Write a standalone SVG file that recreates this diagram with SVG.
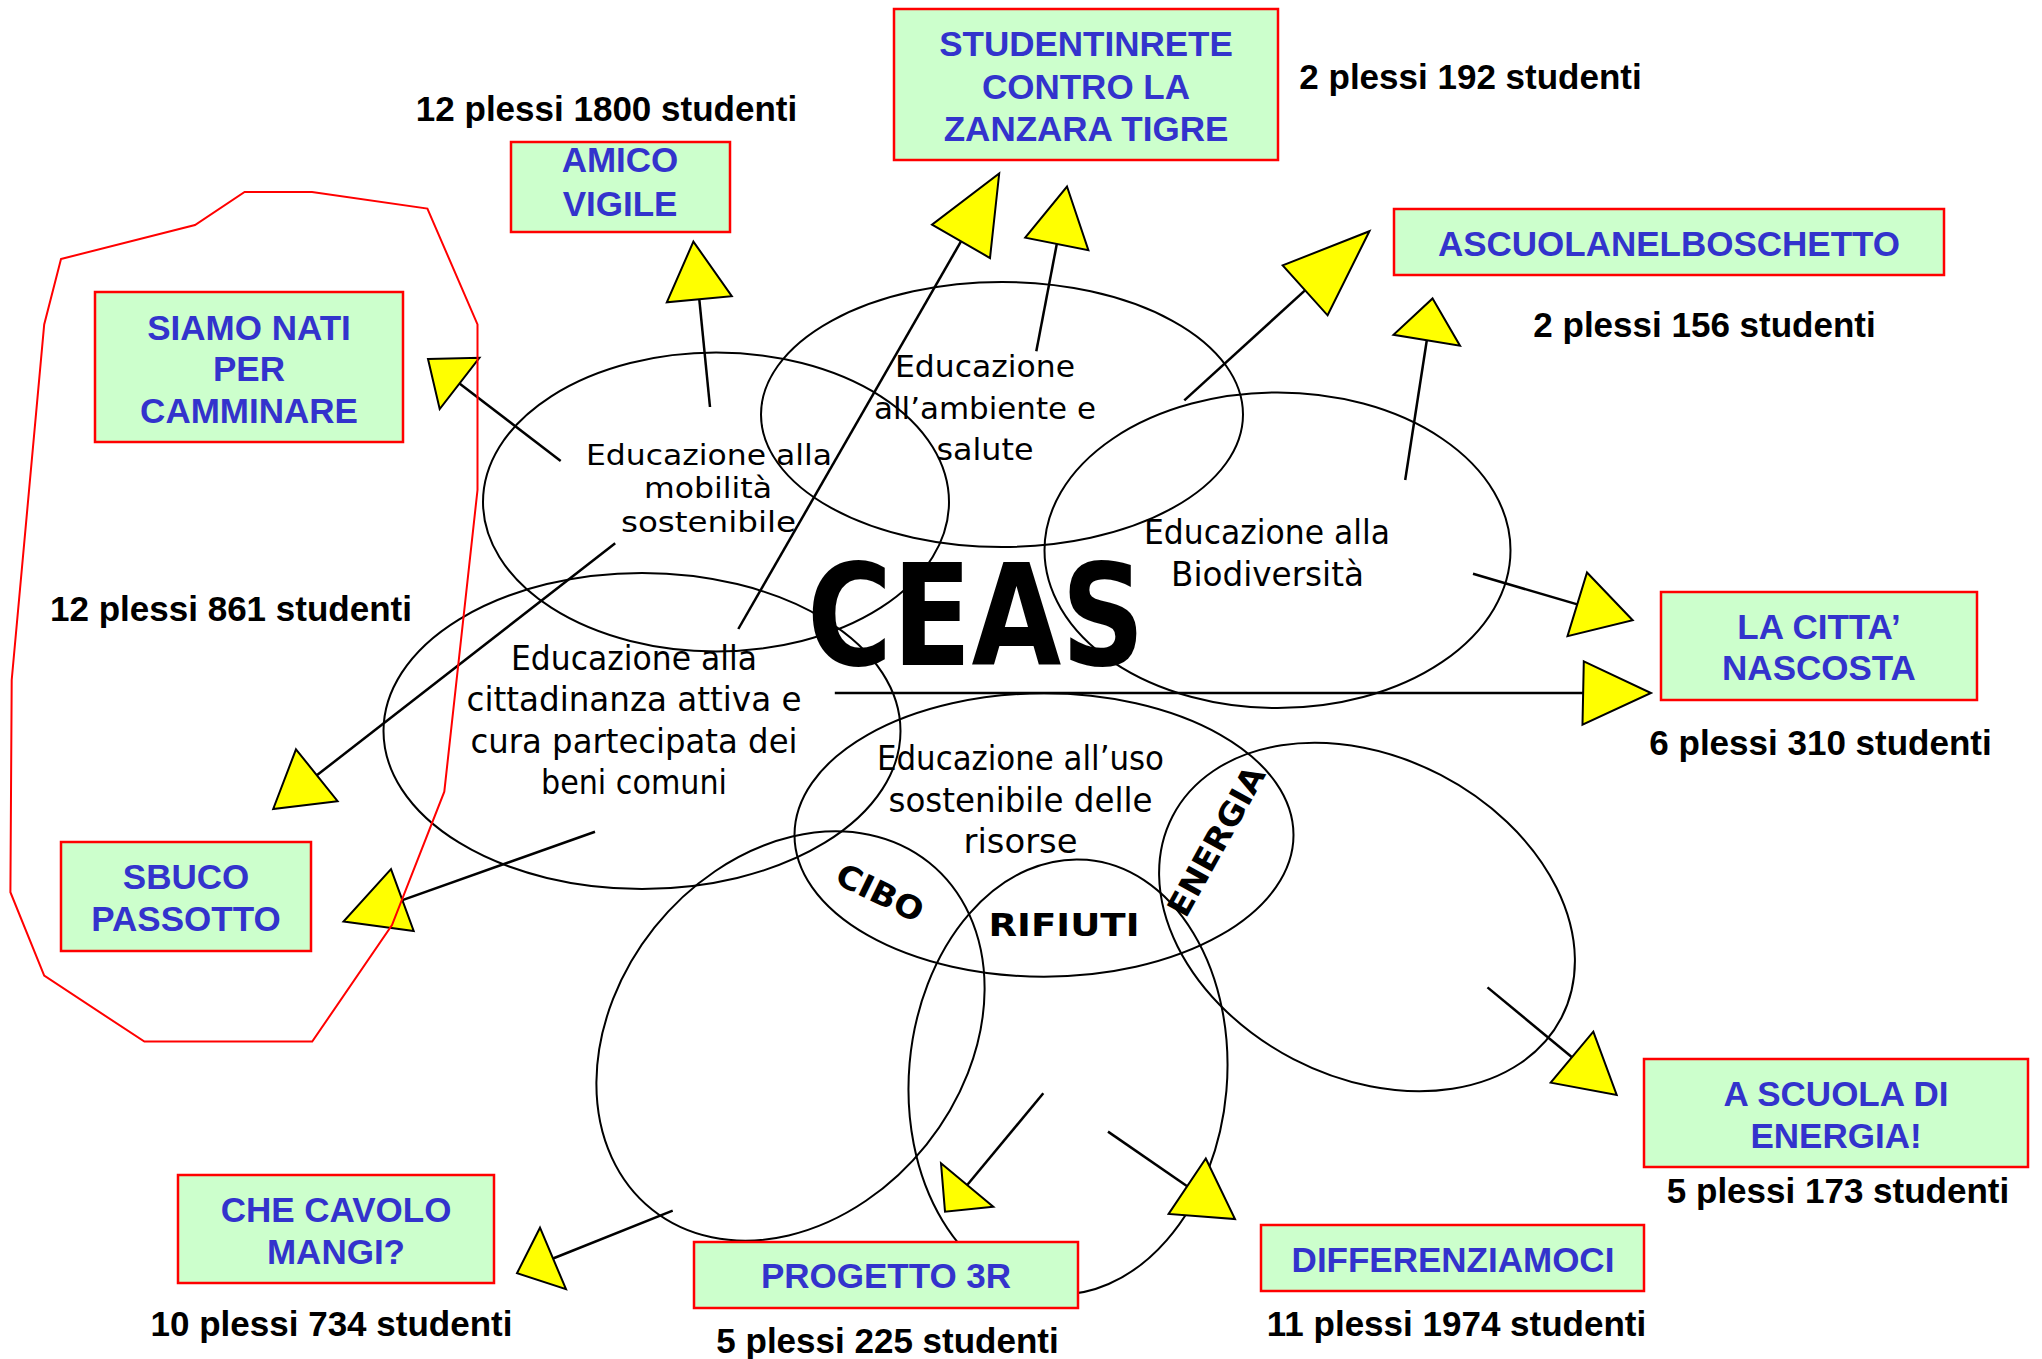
<svg xmlns="http://www.w3.org/2000/svg" width="2042" height="1359" viewBox="0 0 2042 1359">
<style>
.box rect{fill:#CCFFCC;stroke:#FF0000;stroke-width:2.5}
.bt{font-family:"Liberation Sans",Arial,sans-serif;font-weight:bold;font-size:35px;fill:#3333CC;text-anchor:middle}
.st{font-family:"Liberation Sans",Arial,sans-serif;font-weight:bold;font-size:35px;fill:#000;text-anchor:middle}
.ell{fill:none;stroke:#000;stroke-width:2}
.et{font-family:"DejaVu Sans","Open Sans",sans-serif;font-size:33px;fill:#000;text-anchor:middle}
.ea{font-family:"DejaVu Sans","Open Sans",sans-serif;font-size:31px;fill:#000;text-anchor:middle}
.em{font-family:"DejaVu Sans","Open Sans",sans-serif;font-size:28px;fill:#000;text-anchor:middle}
.lbl{font-family:"DejaVu Sans","Open Sans",sans-serif;font-weight:bold;font-size:32px;fill:#000;text-anchor:middle}
.conn line{stroke:#000;stroke-width:2.5}
.conn polygon{fill:#FFFF00;stroke:#000;stroke-width:2;stroke-linejoin:miter}
</style>
<rect width="2042" height="1359" fill="#FFFFFF"/>

<g id="ellipses">
<g id="n-mobilita">
<ellipse class="ell" cx="716" cy="502" rx="233" ry="149.5"/>
<text class="em" x="709" y="465" textLength="246" lengthAdjust="spacingAndGlyphs">Educazione alla</text>
<text class="em" x="708" y="498" textLength="128" lengthAdjust="spacingAndGlyphs">mobilità</text>
<text class="em" x="708.5" y="531.5" textLength="175" lengthAdjust="spacingAndGlyphs">sostenibile</text>
</g>
<g id="n-ambiente">
<ellipse class="ell" cx="1002" cy="414.5" rx="241" ry="132.5"/>
<text class="ea" x="985" y="376.5" textLength="180" lengthAdjust="spacingAndGlyphs">Educazione</text>
<text class="ea" x="985" y="419" textLength="222" lengthAdjust="spacingAndGlyphs">all’ambiente e</text>
<text class="ea" x="985" y="460" textLength="97" lengthAdjust="spacingAndGlyphs">salute</text>
</g>
<g id="n-biodiversita">
<ellipse class="ell" cx="1277.5" cy="550.3" rx="233" ry="157.8"/>
<text class="et" x="1267" y="544" textLength="246" lengthAdjust="spacingAndGlyphs">Educazione alla</text>
<text class="et" x="1267.5" y="585.5" textLength="193" lengthAdjust="spacingAndGlyphs">Biodiversità</text>
</g>
<g id="n-cittadinanza">
<ellipse class="ell" cx="642" cy="731" rx="258.5" ry="158"/>
<text class="et" x="634" y="670" textLength="246" lengthAdjust="spacingAndGlyphs">Educazione alla</text>
<text class="et" x="634" y="711" textLength="335" lengthAdjust="spacingAndGlyphs">cittadinanza attiva e</text>
<text class="et" x="634" y="752.5" textLength="327" lengthAdjust="spacingAndGlyphs">cura partecipata dei</text>
<text class="et" x="634" y="794" textLength="186" lengthAdjust="spacingAndGlyphs">beni comuni</text>
</g>
<g id="n-risorse">
<ellipse class="ell" cx="1044" cy="835" rx="249.5" ry="141.7"/>
<text class="et" x="1020.5" y="770" textLength="287" lengthAdjust="spacingAndGlyphs">Educazione all’uso</text>
<text class="et" x="1020.5" y="811.5" textLength="264" lengthAdjust="spacingAndGlyphs">sostenibile delle</text>
<text class="et" x="1020.5" y="853" textLength="114" lengthAdjust="spacingAndGlyphs">risorse</text>
</g>
<g id="n-cibo">
<ellipse class="ell" cx="0" cy="0" rx="174" ry="222" transform="translate(790.5 1036) rotate(38.6)"/>
<text class="lbl" x="0" y="11.5" textLength="93" lengthAdjust="spacingAndGlyphs" transform="translate(880 892.5) rotate(26)">CIBO</text>
</g>
<g id="n-rifiuti">
<ellipse class="ell" cx="0" cy="0" rx="159" ry="218" transform="translate(1068 1077) rotate(5)"/>
<text class="lbl" x="1064" y="936" textLength="151" lengthAdjust="spacingAndGlyphs">RIFIUTI</text>
</g>
<g id="n-energia">
<ellipse class="ell" cx="0" cy="0" rx="219" ry="160" transform="translate(1367 917) rotate(27.4)"/>
<text class="lbl" x="0" y="11.5" textLength="166" lengthAdjust="spacingAndGlyphs" transform="translate(1216 841) rotate(-61)">ENERGIA</text>
</g>
<g id="n-ceas">
<text x="976" y="665" textLength="338" lengthAdjust="spacingAndGlyphs" style="font-family:'DejaVu Sans','Open Sans',sans-serif;font-weight:bold;font-size:141px;fill:#000;text-anchor:middle">CEAS</text>
</g>
</g>

<g id="connectors" class="conn">
<line x1="710" y1="407" x2="699.3" y2="299.3"/>
<polygon points="693.4,241.6 731.8,296.2 666.8,302.3"/>
<line x1="560.7" y1="461" x2="459.5" y2="383.4"/>
<polygon points="428,359 479.4,357.8 439.7,409"/>
<line x1="738.3" y1="629" x2="961" y2="241.4"/>
<polygon points="999.2,173.5 990,258 932,224.7"/>
<line x1="1036.3" y1="351.3" x2="1056.8" y2="244"/>
<polygon points="1067,186.5 1088.4,250.2 1025.2,237.7"/>
<line x1="1184.3" y1="400.3" x2="1305" y2="290.4"/>
<polygon points="1369.4,231.2 1327.6,315.3 1282.7,265.4"/>
<line x1="1405.2" y1="480" x2="1426.8" y2="340.3"/>
<polygon points="1432.6,298.4 1460,345.7 1393.5,334.8"/>
<line x1="1473" y1="573.8" x2="1577.3" y2="604.4"/>
<polygon points="1632.7,620.2 1587,572.5 1567.5,636.2"/>
<line x1="834.8" y1="693" x2="1583" y2="693"/>
<polygon points="1583.8,661.4 1651,693 1582.5,724.6"/>
<line x1="1487.5" y1="987.4" x2="1572" y2="1057.2"/>
<polygon points="1593.3,1031.7 1616.7,1095 1550.7,1082.7"/>
<line x1="1108" y1="1131.6" x2="1187.2" y2="1186.2"/>
<polygon points="1205.8,1158.5 1235,1219 1168.6,1213.9"/>
<line x1="1043.3" y1="1093.3" x2="967.2" y2="1185"/>
<polygon points="941,1163.3 993.3,1206.7 945,1211.7"/>
<line x1="672.7" y1="1210.7" x2="553" y2="1258.5"/>
<polygon points="540,1227.7 566,1289.2 517,1273.2"/>
<line x1="595" y1="831.7" x2="402.4" y2="900.1"/>
<polygon points="391,869.2 413.7,931 343.5,921.6"/>
<line x1="615.2" y1="543.3" x2="316.8" y2="775.3"/>
<polygon points="296,749.3 337.6,801.2 273.2,809"/>
</g>

<g id="b-studentinrete" class="box">
<rect x="894" y="9" width="384" height="151"/>
<text class="bt" x="1086" y="56">STUDENTINRETE</text>
<text class="bt" x="1086" y="99">CONTRO LA</text>
<text class="bt" x="1086" y="141">ZANZARA TIGRE</text>
</g>
<g id="b-amico" class="box">
<rect x="511" y="142" width="219" height="90"/>
<text class="bt" x="620" y="172">AMICO</text>
<text class="bt" x="620" y="216">VIGILE</text>
</g>
<g id="b-siamo" class="box">
<rect x="95" y="292" width="308" height="150"/>
<text class="bt" x="249" y="340">SIAMO NATI</text>
<text class="bt" x="249" y="381">PER</text>
<text class="bt" x="249" y="423">CAMMINARE</text>
</g>
<g id="b-ascuola" class="box">
<rect x="1394" y="209" width="550" height="66"/>
<text class="bt" x="1669" y="256">ASCUOLANELBOSCHETTO</text>
</g>
<g id="b-citta" class="box">
<rect x="1661" y="592" width="316" height="108"/>
<text class="bt" x="1819" y="639">LA CITTA’</text>
<text class="bt" x="1819" y="680">NASCOSTA</text>
</g>
<g id="b-sbuco" class="box">
<rect x="61" y="842" width="250" height="109"/>
<text class="bt" x="186" y="889">SBUCO</text>
<text class="bt" x="186" y="931">PASSOTTO</text>
</g>
<g id="b-cavolo" class="box">
<rect x="178" y="1175" width="316" height="108"/>
<text class="bt" x="336" y="1222">CHE CAVOLO</text>
<text class="bt" x="336" y="1264">MANGI?</text>
</g>
<g id="b-3r" class="box">
<rect x="694" y="1242" width="384" height="66"/>
<text class="bt" x="886" y="1288">PROGETTO 3R</text>
</g>
<g id="b-diff" class="box">
<rect x="1261" y="1225" width="383" height="66"/>
<text class="bt" x="1453" y="1272">DIFFERENZIAMOCI</text>
</g>
<g id="b-energia" class="box">
<rect x="1644" y="1059" width="384" height="108"/>
<text class="bt" x="1836" y="1106">A SCUOLA DI</text>
<text class="bt" x="1836" y="1148">ENERGIA!</text>
</g>

<g id="stats">
<text class="st" x="606.5" y="121">12 plessi 1800 studenti</text>
<text class="st" x="1470.5" y="89">2 plessi 192 studenti</text>
<text class="st" x="1704.5" y="337">2 plessi 156 studenti</text>
<text class="st" x="231" y="621">12 plessi 861 studenti</text>
<text class="st" x="1820.5" y="754.5">6 plessi 310 studenti</text>
<text class="st" x="1838" y="1203">5 plessi 173 studenti</text>
<text class="st" x="331.5" y="1336">10 plessi 734 studenti</text>
<text class="st" x="887.5" y="1353">5 plessi 225 studenti</text>
<text class="st" x="1456.5" y="1336">11 plessi 1974 studenti</text>
</g>

<g id="group-outline">
<polygon points="61,259 195,225 244.6,192 312,192 427.4,208.6 477.5,324.4 477.5,490 444.3,791.7 392,925 312.2,1041.6 144.4,1041.6 44.2,975.7 10.4,892.2 11.7,680 44.2,324.4" fill="none" stroke="#FF0000" stroke-width="2"/>
</g>
</svg>
